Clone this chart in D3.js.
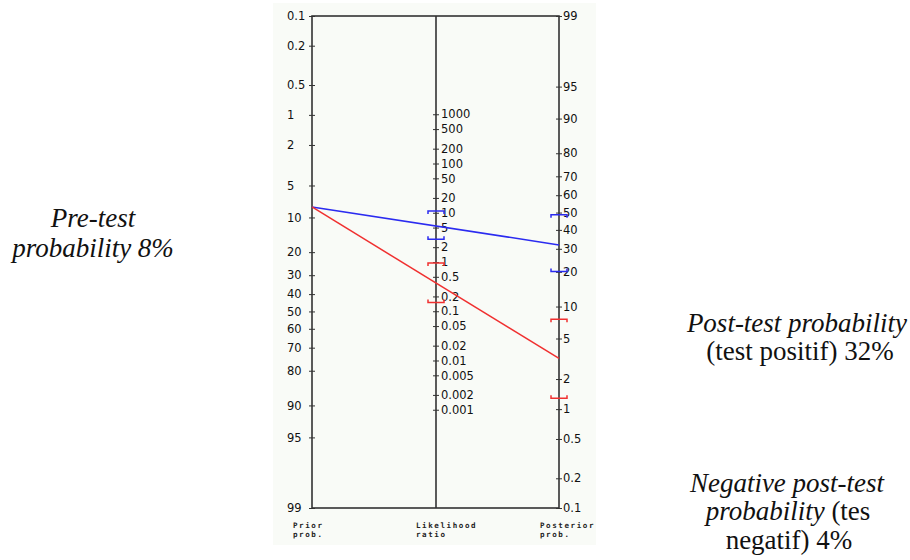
<!DOCTYPE html>
<html>
<head>
<meta charset="utf-8">
<script src="https://cdn.jsdelivr.net/npm/d3@7"></script>
<style>
  body { margin: 0; background: #fff; }
  .note { font-family: "Liberation Serif", "Times New Roman", serif; font-size: 27px; fill: #111; }
  .tick text { font-family: "DejaVu Sans", Verdana, sans-serif; font-size: 11.5px; fill: #111; }
  .foot { font-family: "DejaVu Sans Mono", monospace; font-size: 7.5px; font-weight: bold; fill: #222; letter-spacing: 1.6px; }
</style>
</head>
<body>
<div id="canvas"></div>
<script>
/* DATA */
const priorTicks = [0.1, 0.2, 0.5, 1, 2, 5, 10, 20, 30, 40, 50, 60, 70, 80, 90, 95, 99];
const lrTicks = [1000, 500, 200, 100, 50, 20, 10, 5, 2, 1, 0.5, 0.2, 0.1, 0.05, 0.02, 0.01, 0.005, 0.002, 0.001];
const postTicks = [99, 95, 90, 80, 70, 60, 50, 40, 30, 20, 10, 5, 2, 1, 0.5, 0.2, 0.1];

const preTest = 8;            // %
const lrPositive = 5.4;
const lrPositiveCI = [2.9, 10.9];
const lrNegative = 0.38;
const lrNegativeCI = [0.15, 0.95];

/* CANVAS */
const width = 910;
const height = 560;

const svg = d3.select("#canvas")
    .append("svg")
    .attr("width", width)
    .attr("height", height);

const xPrior = 312, xLR = 436, xPost = 559;
const yTop = 16, yBottom = 508;

/* HELPERS */
function logit(p) {
    return Math.log(p / (1 - p));
}

function postProb(prior, lr) {
    let odds = prior / (1 - prior) * lr;
    return odds / (1 + odds);
}

/* SCALES (logit for probabilities, log for likelihood ratio) */
const yPrior = d3.scaleLinear()
    .domain([logit(0.001), logit(0.99)])
    .range([yTop, yBottom]);

const yPost = d3.scaleLinear()
    .domain([logit(0.99), logit(0.001)])
    .range([yTop, yBottom]);

const k = (yBottom - yTop) / (logit(0.99) - logit(0.001));
const mid0 = (yPrior(0) + yPost(0)) / 2;
const yLR = d3.scaleLog()
    .domain([0.001, 1000])
    .range([mid0 + k / 2 * Math.log(1000), mid0 - k / 2 * Math.log(1000)]);

/* PANEL */
svg.append("rect")
    .attr("x", 273).attr("y", 3)
    .attr("width", 323).attr("height", 542)
    .attr("fill", "#f9fbf7");

/* AXES */
function styleAxis(g, labelX) {
    g.select(".domain").remove();
    g.selectAll(".tick line")
        .attr("x1", -3).attr("x2", 3)
        .attr("stroke", "#333");
    g.selectAll(".tick text")
        .attr("x", labelX)
        .attr("text-anchor", "start");
}

svg.append("g")
    .attr("transform", `translate(${xPrior},0)`)
    .call(d3.axisRight(yPrior)
        .tickValues(priorTicks.map(p => logit(p / 100)))
        .tickFormat((d, i) => priorTicks[i]))
    .call(g => styleAxis(g, -25));

svg.append("g")
    .attr("transform", `translate(${xLR},0)`)
    .call(d3.axisRight(yLR)
        .tickValues(lrTicks)
        .tickFormat(d => d))
    .call(g => styleAxis(g, 5));

svg.append("g")
    .attr("transform", `translate(${xPost},0)`)
    .call(d3.axisRight(yPost)
        .tickValues(postTicks.map(p => logit(p / 100)))
        .tickFormat((d, i) => postTicks[i]))
    .call(g => styleAxis(g, 4));

/* FRAME */
const frame = svg.append("g")
    .attr("stroke", "#333")
    .attr("stroke-width", 1.6)
    .attr("fill", "none");

frame.append("rect")
    .attr("x", xPrior).attr("y", yTop)
    .attr("width", xPost - xPrior).attr("height", yBottom - yTop);

frame.append("line")
    .attr("x1", xLR).attr("x2", xLR)
    .attr("y1", yTop).attr("y2", yBottom);

/* LINES + CONFIDENCE BRACKETS */
function bracket(x, y, dir, color) {
    svg.append("path")
        .attr("d", `M${x - 8},${y + dir * 3}V${y}H${x + 8}V${y + dir * 3}`)
        .attr("fill", "none")
        .attr("stroke", color)
        .attr("stroke-width", 1.5);
}

function drawTest(lr, ci, color) {
    let p0 = preTest / 100;
    let p1 = postProb(p0, lr);

    svg.append("line")
        .attr("x1", xPrior).attr("y1", yPrior(logit(p0)))
        .attr("x2", xPost).attr("y2", yPost(logit(p1)))
        .attr("stroke", color)
        .attr("stroke-width", 1.5);

    // upper limit: ends point down, lower limit: ends point up
    bracket(xLR, yLR(ci[1]), 1, color);
    bracket(xLR, yLR(ci[0]), -1, color);
    bracket(xPost, yPost(logit(postProb(p0, ci[1]))), 1, color);
    bracket(xPost, yPost(logit(postProb(p0, ci[0]))), -1, color);
}

drawTest(lrPositive, lrPositiveCI, "#2b2bf0");
drawTest(lrNegative, lrNegativeCI, "#f03030");

/* AXIS FOOT LABELS */
const foot = [
    { x: 293, lines: ["Prior", "prob."] },
    { x: 416, lines: ["Likelihood", "ratio"] },
    { x: 540, lines: ["Posterior", "prob."] }
];

foot.forEach(f => {
    f.lines.forEach((t, i) => {
        svg.append("text")
            .attr("class", "foot")
            .attr("x", f.x)
            .attr("y", 528 + i * 9)
            .text(t);
    });
});

/* NOTES */
function note(x, y, parts) {
    let t = svg.append("text")
        .attr("class", "note")
        .attr("x", x).attr("y", y)
        .attr("text-anchor", "middle");
    parts.forEach(p => {
        t.append("tspan")
            .attr("font-style", p[1] ? "italic" : "normal")
            .text(p[0]);
    });
}

note(93, 227, [["Pre-test", true]]);
note(93, 257, [["probability 8%", true]]);

note(797, 332, [["Post-test probability", true]]);
note(800, 360, [["(test positif) 32%", false]]);

note(787, 492, [["Negative post-test", true]]);
note(788, 520, [["probability", true], [" (tes", false]]);
note(789, 549, [["negatif) 4%", false]]);
</script>
</body>
</html>
